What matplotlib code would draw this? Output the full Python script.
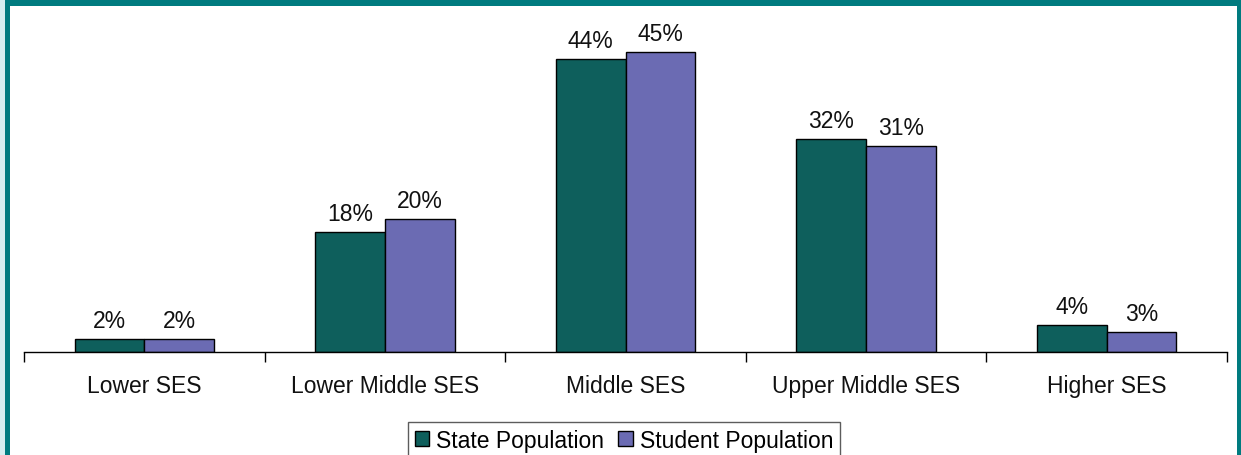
import matplotlib
matplotlib.use("Agg")
import matplotlib.pyplot as plt
from matplotlib.patches import Rectangle
import numpy as np

categories = ["Lower SES", "Lower Middle SES", "Middle SES", "Upper Middle SES", "Higher SES"]
state_pop = [2, 18, 44, 32, 4]
student_pop = [2, 20, 45, 31, 3]
series_names = ["State Population", "Student Population"]
colors = ["#0E5F5C", "#6B6BB3"]

plt.rcParams['font.family'] = ['Liberation Sans', 'DejaVu Sans']

W, H = 1241, 456
fig = plt.figure(figsize=(W / 100, H / 100), dpi=100)
fig.patch.set_facecolor("white")

# frame decorations
def frect(x0, y0, x1, y1, color):
    fig.patches.append(Rectangle((x0 / W, 1 - y1 / H), (x1 - x0) / W, (y1 - y0) / H,
                                 transform=fig.transFigure, facecolor=color,
                                 edgecolor="none", zorder=0))

frect(0, 0, 5, H, "#D5EEF0")
frect(5, 0, 10, H, "#007B7F")
frect(5, 0, W, 7, "#007B7F")
frect(1237, 0, W, H, "#007B7F")

ax_left, ax_right, ax_bottom, ax_top = 24, 1227, 353, 20
ax = fig.add_axes([ax_left / W, 1 - ax_bottom / H, (ax_right - ax_left) / W, (ax_bottom - ax_top) / H])
ax.set_facecolor("none")

x = np.arange(len(categories))
w = 0.29
b1 = ax.bar(x - w / 2, state_pop, w, color=colors[0], edgecolor="black", linewidth=1, label=series_names[0])
b2 = ax.bar(x + w / 2, student_pop, w, color=colors[1], edgecolor="black", linewidth=1, label=series_names[1])

for bars, vals in ((b1, state_pop), (b2, student_pop)):
    for r, v in zip(bars, vals):
        ax.annotate(f"{v}%", (r.get_x() + r.get_width() / 2, r.get_height()),
                    xytext=(0, 5), textcoords="offset points", ha="center", va="bottom",
                    fontsize=16.5, color="#111111")

ax.set_xlim(-0.5, len(categories) - 0.5)
ax.set_ylim(0, 50)
for s in ("top", "right", "left"):
    ax.spines[s].set_visible(False)
ax.spines["bottom"].set_linewidth(1)
ax.set_yticks([])
ax.set_xticks(np.arange(len(categories) + 1) - 0.5)
ax.set_xticklabels([])
ax.tick_params(axis="x", which="major", length=7, width=1, direction="out")
ax.set_xticks(x, minor=True)
ax.set_xticklabels(categories, minor=True, fontsize=16.5, color="#111111")
ax.tick_params(axis="x", which="minor", length=0, pad=16)

leg = fig.legend(handles=[b1, b2], labels=series_names, loc="upper center",
                 bbox_to_anchor=(624 / W, 1 - 423 / H), ncol=2, fontsize=16.5,
                 frameon=True, fancybox=False, edgecolor="#333333",
                 handlelength=0.65, handleheight=0.65, handletextpad=0.3,
                 columnspacing=0.6, borderpad=0.3, borderaxespad=0)
leg.get_frame().set_linewidth(1)

fig.savefig("out.png", dpi=100)
